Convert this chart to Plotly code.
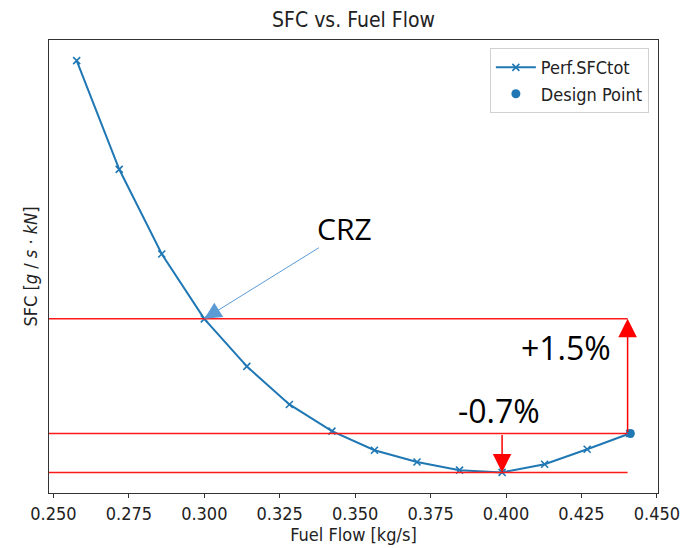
import plotly.graph_objects as go

# ---- data ----
fuel_flow = [0.2577, 0.2718, 0.2859, 0.3000, 0.3141, 0.3282, 0.3423,
             0.3564, 0.3705, 0.3846, 0.3987, 0.4128, 0.4269, 0.4410]
sfc = [16.810, 16.570, 16.383, 16.240, 16.135, 16.051, 15.992,
       15.950, 15.924, 15.906, 15.901, 15.919, 15.952, 15.987]
design_flow = [0.4412]
design_sfc = [15.987]
crz_index = 3
xticks = [0.250, 0.275, 0.300, 0.325, 0.350, 0.375, 0.400, 0.425, 0.450]
xtick_text = ["0.250", "0.275", "0.300", "0.325", "0.350", "0.375", "0.400", "0.425", "0.450"]
red_end_x = 0.4403

C0 = "#1f77b4"
FONT = "DejaVu Sans Condensed, DejaVu Sans, sans-serif"
ANN_FONT = "Open Sans, Liberation Sans, sans-serif"

xmin, xmax = min(fuel_flow), max(design_flow + fuel_flow)
ymin, ymax = min(sfc), max(sfc)
xr = [xmin - 0.05 * (xmax - xmin), xmax + 0.05 * (xmax - xmin)]
yr = [ymin - 0.05 * (ymax - ymin), ymax + 0.05 * (ymax - ymin)]

crz_x, crz_y = fuel_flow[crz_index], sfc[crz_index]
imin = sfc.index(ymin)
min_x = fuel_flow[imin]
d_y = design_sfc[0]

fig = go.Figure()
fig.add_trace(go.Scatter(
    x=fuel_flow, y=sfc, mode="lines+markers", name="Perf.SFCtot",
    line=dict(color=C0, width=2),
    marker=dict(symbol="x-thin", size=7, line=dict(color=C0, width=1.6), color=C0),
))
fig.add_trace(go.Scatter(
    x=design_flow, y=design_sfc, mode="markers", name="Design Point",
    marker=dict(symbol="circle", size=9, color=C0),
))

# red horizontal reference lines
for lvl in [crz_y, d_y, ymin]:
    fig.add_shape(type="line", xref="x", yref="y", x0=xr[0], x1=red_end_x,
                  y0=lvl, y1=lvl, line=dict(color="#ff1a1a", width=1.5), layer="above")

anns = []
# red up arrow (+1.5%)
anns.append(dict(x=red_end_x, y=crz_y, ax=red_end_x, ay=d_y, xref="x", yref="y",
                 axref="x", ayref="y", text="", showarrow=True, arrowhead=2,
                 arrowsize=2.47, arrowwidth=1.5, arrowcolor="#ff0000"))
# red down arrow (-0.7%)
anns.append(dict(x=min_x, y=ymin, ax=min_x, ay=d_y, xref="x", yref="y",
                 axref="x", ayref="y", text="", showarrow=True, arrowhead=2,
                 arrowsize=2.47, arrowwidth=1.5, arrowcolor="#ff0000"))
# blue CRZ arrow
anns.append(dict(x=crz_x, y=crz_y, ax=116, ay=-72, xref="x", yref="y",
                 text="", showarrow=True, arrowhead=2, arrowsize=3.4,
                 arrowwidth=1, arrowcolor="#5b9bd5"))
anns.append(dict(x=0.3464, y=16.440, xref="x", yref="y", text="CRZ", showarrow=False,
                 font=dict(family=ANN_FONT, size=30, color="black")))
anns.append(dict(x=0.4198, y=16.177, xref="x", yref="y", text="+1.5%", showarrow=False,
                 font=dict(family=ANN_FONT, size=32, color="black")))
anns.append(dict(x=0.3978, y=16.038, xref="x", yref="y", text="-0.7%", showarrow=False,
                 font=dict(family=ANN_FONT, size=32, color="black")))

fig.update_layout(
    width=681, height=548,
    margin=dict(l=49, r=23, t=40, b=55),
    paper_bgcolor="white", plot_bgcolor="white",
    font=dict(family=FONT, size=18, color="#222"),
    title=dict(text="SFC vs. Fuel Flow", x=0.5, xref="paper", y=1 - 20 / 548,
               yref="container", yanchor="middle", xanchor="center",
               font=dict(family=FONT, size=21, color="#222")),
    showlegend=True,
    legend=dict(x=0.985, y=0.982, xanchor="right", yanchor="top",
                bgcolor="rgba(255,255,255,0.8)", bordercolor="#d0d0d0", borderwidth=1,
                tracegroupgap=0, itemwidth=40,
                font=dict(family=FONT, size=18, color="#222")),
    annotations=anns,
)
fig.update_xaxes(range=xr, tickvals=xticks, ticktext=xtick_text, ticks="outside",
                 ticklen=4, tickcolor="#333", showline=True, linecolor="#333",
                 linewidth=1.2, mirror=True, showgrid=False, zeroline=False,
                 automargin=False,
                 tickfont=dict(family=FONT, size=18, color="#222"),
                 title=dict(text="Fuel Flow [kg/s]", standoff=5,
                            font=dict(family=FONT, size=18, color="#222")))
fig.update_yaxes(range=yr, showticklabels=False, ticks="", showline=True,
                 linecolor="#333", linewidth=1.2, mirror=True, showgrid=False,
                 zeroline=False, automargin=False,
                 title=dict(text="SFC [<i>g</i> / <i>s</i> · <i>kN</i>]", standoff=5,
                            font=dict(family=FONT, size=18, color="#222")))

fig.write_html("out.html")
